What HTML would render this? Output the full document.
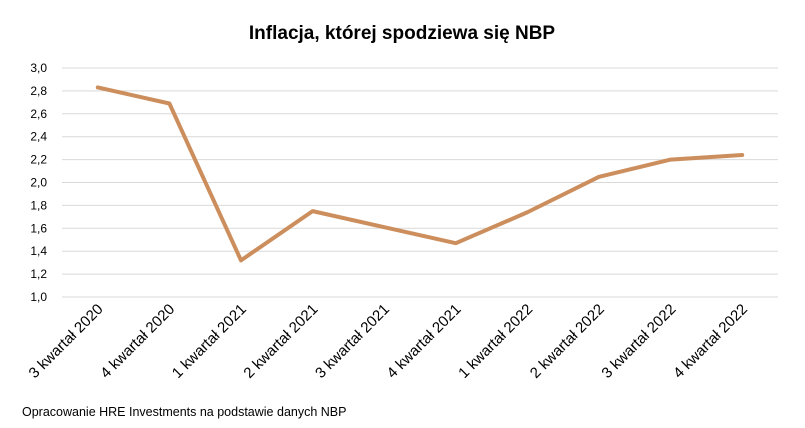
<!DOCTYPE html>
<html><head><meta charset="utf-8"><style>
body{margin:0;background:#fff;}
svg{display:block;font-family:"Liberation Sans",sans-serif;}
</style></head><body>
<svg id="chart" width="805" height="428">
<text x="402" y="39" text-anchor="middle" font-size="19" font-weight="bold" fill="#000">Inflacja, której spodziewa się NBP</text>
<g id="grid"></g><g id="yticks"></g><g id="xticks"></g><g id="series"></g>
<text x="22" y="416" font-size="12.5" fill="#000">Opracowanie HRE Investments na podstawie danych NBP</text>
</svg>
<script>
const categories=["3 kwartał 2020","4 kwartał 2020","1 kwartał 2021","2 kwartał 2021","3 kwartał 2021","4 kwartał 2021","1 kwartał 2022","2 kwartał 2022","3 kwartał 2022","4 kwartał 2022"];
const values=[2.83,2.69,1.32,1.75,1.61,1.47,1.74,2.05,2.20,2.24];
const yTicks=[1.0,1.2,1.4,1.6,1.8,2.0,2.2,2.4,2.6,2.8,3.0];
const NS="http://www.w3.org/2000/svg";
const plotLeft=62,plotRight=778,plotTop=68,plotBottom=297,yMin=1,yMax=3;
const band=(plotRight-plotLeft)/categories.length;
const xPos=i=>plotLeft+band*(i+0.5);
const yPos=v=>plotBottom-(v-yMin)/(yMax-yMin)*(plotBottom-plotTop);
function mk(t,a,p){const e=document.createElementNS(NS,t);for(const k in a)e.setAttribute(k,a[k]);p.appendChild(e);return e;}
const grid=document.getElementById('grid'),yt=document.getElementById('yticks'),xt=document.getElementById('xticks'),se=document.getElementById('series');
yTicks.forEach(v=>{
 const l=mk('line',{x1:plotLeft,x2:plotRight,y1:yPos(v),y2:yPos(v),stroke:'#d9d9d9','stroke-width':1},grid);
 
 
 const t=mk('text',{x:47,y:yPos(v)+4,'text-anchor':'end','font-size':12,fill:'#000'},yt);
 t.textContent=v.toFixed(1).replace('.',',');
 
 
});
categories.forEach((c,i)=>{
 const tx=xPos(i)+6,ty=plotBottom+13;
 const t=mk('text',{x:tx,y:ty,'text-anchor':'end','font-size':15,fill:'#000',transform:`rotate(-45 ${tx} ${ty})`},xt);
 t.textContent=c;
 
 
});
const p=mk('polyline',{points:values.map((v,i)=>xPos(i)+','+yPos(v)).join(' '),fill:'none',stroke:'#cc8e5c','stroke-width':4,'stroke-linejoin':'round','stroke-linecap':'round'},se);


</script>
</body></html>
